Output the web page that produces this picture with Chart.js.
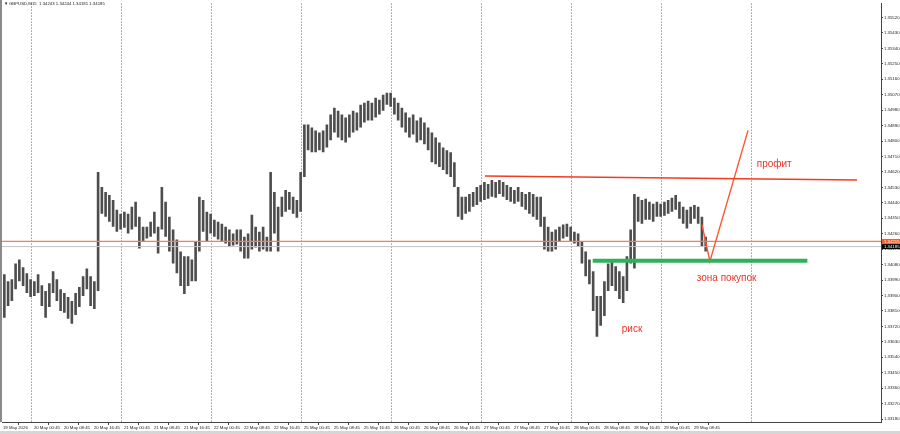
<!DOCTYPE html>
<html>
<head>
<meta charset="utf-8">
<script src="https://cdn.jsdelivr.net/npm/chart.js@4.4.1/dist/chart.umd.min.js"></script>
<style>
  html, body { margin: 0; padding: 0; background: #fff; }
  #wrap { width: 900px; height: 434px; position: relative; }
</style>
</head>
<body>
<div id="wrap"><canvas id="chart" width="900" height="434"></canvas></div>
<script>
// GBPUSD M15 - one entry per group of 4 bars (group high / group low)
const groupSize = 4;
const highs = [
  1.34024, 1.33983, 1.33995, 1.34087, 1.34110, 1.34064, 1.34030, 1.33995, 1.33983, 1.34024,
  1.33960, 1.33926, 1.33972, 1.34041, 1.33995, 1.33937, 1.33914, 1.33891, 1.33868, 1.33914,
  1.33949, 1.34012, 1.34058, 1.34012, 1.33983, 1.34619, 1.34532, 1.34503, 1.34486, 1.34457,
  1.34399, 1.34376, 1.34388, 1.34376, 1.34417, 1.34446, 1.34359, 1.34301, 1.34301, 1.34330,
  1.34388, 1.34301, 1.34532, 1.34446, 1.34359, 1.34284, 1.34226, 1.34157, 1.34128, 1.34128,
  1.34110, 1.34215, 1.34475, 1.34457, 1.34388, 1.34376, 1.34342, 1.34330, 1.34318, 1.34301,
  1.34284, 1.34261, 1.34284, 1.34284, 1.34243, 1.34261, 1.34370, 1.34301, 1.34272, 1.34301,
  1.34243, 1.34619, 1.34503, 1.34417, 1.34475, 1.34515, 1.34503, 1.34475, 1.34457, 1.34619,
  1.34896, 1.34896, 1.34879, 1.34862, 1.34850, 1.34862, 1.34896, 1.34954, 1.34994, 1.34977,
  1.34954, 1.34937, 1.34954, 1.34977, 1.34966, 1.35012, 1.35023, 1.35035, 1.35023, 1.35052,
  1.35041, 1.35070, 1.35081, 1.35081, 1.35052, 1.35023, 1.34994, 1.34966, 1.34937, 1.34954,
  1.34919, 1.34937, 1.34908, 1.34879, 1.34850, 1.34821, 1.34792, 1.34763, 1.34746, 1.34734,
  1.34677, 1.34532, 1.34475, 1.34475, 1.34492, 1.34503, 1.34532, 1.34544, 1.34561, 1.34550,
  1.34573, 1.34561, 1.34573, 1.34561, 1.34544, 1.34532, 1.34515, 1.34532, 1.34503, 1.34492,
  1.34503, 1.34492, 1.34475, 1.34475, 1.34359, 1.34301, 1.34272, 1.34284, 1.34301, 1.34313,
  1.34318, 1.34301, 1.34272, 1.34261, 1.34215, 1.34157, 1.34110, 1.34041, 1.33897, 1.33897,
  1.33983, 1.34087, 1.34099, 1.34070, 1.34041, 1.34012, 1.34128, 1.34284, 1.34492, 1.34475,
  1.34457, 1.34463, 1.34446, 1.34434, 1.34446, 1.34434, 1.34446, 1.34457, 1.34469, 1.34486,
  1.34446, 1.34417, 1.34399, 1.34417, 1.34428, 1.34417, 1.34359, 1.34243
];
const lows = [
  1.33770, 1.33839, 1.33868, 1.33937, 1.33983, 1.33955, 1.33914, 1.33891, 1.33897, 1.33914,
  1.33839, 1.33770, 1.33833, 1.33914, 1.33868, 1.33810, 1.33799, 1.33764, 1.33735, 1.33787,
  1.33833, 1.33897, 1.33937, 1.33839, 1.33822, 1.33926, 1.34376, 1.34359, 1.34330, 1.34301,
  1.34272, 1.34284, 1.34295, 1.34261, 1.34284, 1.34301, 1.34174, 1.34215, 1.34232, 1.34243,
  1.34261, 1.34145, 1.34284, 1.34243, 1.34157, 1.34087, 1.34030, 1.33955, 1.33908, 1.33955,
  1.33983, 1.33983, 1.34157, 1.34272, 1.34215, 1.34261, 1.34243, 1.34226, 1.34215, 1.34203,
  1.34186, 1.34192, 1.34197, 1.34157, 1.34116, 1.34116, 1.34168, 1.34180, 1.34157, 1.34168,
  1.34157, 1.34157, 1.34261, 1.34157, 1.34359, 1.34388, 1.34399, 1.34376, 1.34353, 1.34388,
  1.34590, 1.34746, 1.34734, 1.34734, 1.34746, 1.34734, 1.34763, 1.34804, 1.34850, 1.34821,
  1.34804, 1.34792, 1.34821, 1.34850, 1.34862, 1.34879, 1.34908, 1.34919, 1.34919, 1.34937,
  1.34954, 1.34977, 1.35012, 1.35000, 1.34954, 1.34919, 1.34879, 1.34850, 1.34821, 1.34838,
  1.34792, 1.34804, 1.34781, 1.34746, 1.34677, 1.34665, 1.34648, 1.34631, 1.34607, 1.34590,
  1.34532, 1.34359, 1.34342, 1.34376, 1.34388, 1.34417, 1.34428, 1.34446, 1.34457, 1.34463,
  1.34475, 1.34469, 1.34492, 1.34475, 1.34457, 1.34446, 1.34434, 1.34446, 1.34417, 1.34399,
  1.34376, 1.34359, 1.34342, 1.34301, 1.34168, 1.34157, 1.34157, 1.34168, 1.34215, 1.34232,
  1.34243, 1.34215, 1.34203, 1.34186, 1.34087, 1.34012, 1.33966, 1.33810, 1.33660, 1.33723,
  1.33781, 1.33926, 1.33955, 1.33926, 1.33879, 1.33856, 1.33926, 1.34087, 1.34058, 1.34330,
  1.34318, 1.34342, 1.34342, 1.34330, 1.34359, 1.34359, 1.34365, 1.34376, 1.34388, 1.34399,
  1.34347, 1.34318, 1.34290, 1.34318, 1.34347, 1.34318, 1.34186, 1.34157
];

// time axis (bar numbers from the first bar on screen)
const timeLabels = [
  '19 May 2026', '20 May 00:45', '20 May 08:45', '20 May 16:45', '21 May 00:45', '21 May 08:45',
  '21 May 16:45', '22 May 00:45', '22 May 08:45', '22 May 16:45', '25 May 00:45', '25 May 08:45',
  '25 May 16:45', '26 May 00:45', '26 May 08:45', '26 May 16:45', '27 May 00:45', '27 May 08:45',
  '27 May 16:45', '28 May 00:45', '28 May 08:45', '28 May 16:45', '29 May 00:45', '29 May 08:45'
];
const timeLabelBars = [
  0, 33, 65, 97, 129, 161, 193, 225, 257, 289, 321, 353,
  385, 417, 449, 481, 513, 545, 577, 609, 641, 673, 705, 737
];
const dayBars = [30, 126, 222, 318, 414, 510, 606, 702, 798];

// price axis
const priceTicks = [
  1.33180, 1.33270, 1.33360, 1.33450, 1.33540, 1.33630, 1.33720, 1.33810, 1.33900,
  1.33990, 1.34080, 1.34170, 1.34260, 1.34350, 1.34440, 1.34530, 1.34620, 1.34710,
  1.34800, 1.34890, 1.34980, 1.35070, 1.35160, 1.35250, 1.35340, 1.35430, 1.35520
];
const priceMin = 1.331629, priceMax = 1.356009;
const barMin = -1, barMax = 936.5;

const askPrice = 1.34215;
const bidPrice = 1.34185;
const titleText = 'GBPUSD,M15  1.34243 1.34244 1.34181 1.34185';

// hand-drawn analysis
const resistLine = [{ x: 514, y: 1.34596 }, { x: 911, y: 1.34573 }];
const buyZone = [{ x: 629, y: 1.34102 }, { x: 858, y: 1.34102 }];
const forecast = [{ x: 745.6, y: 1.34313 }, { x: 754, y: 1.34099 }, { x: 794.7, y: 1.34862 }];
const notes = [
  { text: 'профит', x: 804, y: 1.34665 },
  { text: 'зона покупок', x: 740, y: 1.34001 },
  { text: 'риск', x: 660, y: 1.33706 }
];

const tinyFont = { family: 'Liberation Sans', size: 4.3 };

const barData = highs.map((h, i) => ({ x: i * groupSize + 1.5, y: [lows[i], h] }));

const decor = {
  id: 'decor',
  beforeDraw(chart) {
    const ctx = chart.ctx;
    ctx.save();
    ctx.fillStyle = '#fff';
    ctx.fillRect(0, 0, chart.width, chart.height);
    ctx.restore();
  },
  beforeDatasetsDraw(chart) {
    const { ctx, chartArea, scales } = chart;
    ctx.save();
    ctx.strokeStyle = '#666';
    ctx.lineWidth = 1;
    ctx.setLineDash([1, 2]);
    dayBars.forEach(b => {
      const px = Math.round(scales.x.getPixelForValue(b)) + 0.5;
      ctx.beginPath();
      ctx.moveTo(px, chartArea.top);
      ctx.lineTo(px, chartArea.bottom);
      ctx.stroke();
    });
    ctx.restore();
  },
  afterDatasetsDraw(chart) {
    const { ctx, scales } = chart;
    ctx.save();
    ctx.font = '10px "Liberation Sans"';
    ctx.fillStyle = '#ea3325';
    ctx.textBaseline = 'middle';
    ctx.textAlign = 'left';
    notes.forEach(n => {
      ctx.fillText(n.text, scales.x.getPixelForValue(n.x), scales.y.getPixelForValue(n.y));
    });
    ctx.restore();
  },
  afterDraw(chart) {
    const { ctx, chartArea, scales } = chart;
    ctx.save();
    // left frame + bottom strip
    ctx.fillStyle = '#8a8a8a';
    ctx.fillRect(0, 0, 2, chartArea.bottom);
    ctx.fillStyle = '#d6d6d6';
    ctx.fillRect(0, chart.height - 3, chart.width, 3);
    // title
    ctx.font = '4.3px "Liberation Sans"';
    ctx.fillStyle = '#222';
    ctx.textBaseline = 'middle';
    ctx.fillText('\u25BC', 4, 3.5);
    ctx.fillText(titleText, 9, 3.5);
    // price tags on the right axis
    const tag = (price, bg) => {
      const py = scales.y.getPixelForValue(price);
      ctx.fillStyle = bg;
      ctx.fillRect(chartArea.right + 1, py - 2.5, chart.width - chartArea.right - 1, 5);
      ctx.fillStyle = '#fff';
      ctx.fillText(price.toFixed(5), chartArea.right + 3, py);
    };
    tag(askPrice, '#ff5a24');
    tag(bidPrice, '#000');
    ctx.restore();
  }
};

new Chart(document.getElementById('chart'), {
  type: 'bar',
  data: {
    datasets: [
      {
        type: 'line', data: [{ x: barMin, y: askPrice }, { x: barMax, y: askPrice }],
        borderColor: '#ff7a4d', borderWidth: 1.2, pointRadius: 0, order: 2
      },
      {
        type: 'line', data: [{ x: barMin, y: bidPrice }, { x: barMax, y: bidPrice }],
        borderColor: '#c4c4c4', borderWidth: 1, pointRadius: 0, order: 3
      },
      {
        type: 'bar', data: barData, backgroundColor: '#4d4d4d',
        barPercentage: 0.7, categoryPercentage: 1, order: 5
      },
      {
        type: 'line', data: resistLine, borderColor: '#f23c22', borderWidth: 1.5,
        pointRadius: 0, order: 1
      },
      {
        type: 'line', data: buyZone, borderColor: '#2fb15c', borderWidth: 4,
        pointRadius: 0, order: 1
      },
      {
        type: 'line', data: forecast, borderColor: '#ff5530', borderWidth: 1.4,
        pointRadius: 0, tension: 0, order: 1
      }
    ]
  },
  options: {
    responsive: false,
    animation: false,
    layout: { padding: { left: 2, top: 0, right: 0, bottom: 0 } },
    plugins: { legend: { display: false }, tooltip: { enabled: false } },
    scales: {
      x: {
        type: 'linear', min: barMin, max: barMax, offset: false,
        afterBuildTicks: s => { s.ticks = timeLabelBars.map(v => ({ value: v })); },
        afterFit: s => { s.height = 12; },
        ticks: {
          autoSkip: false, maxRotation: 0, align: 'start', padding: 0,
          font: tinyFont, color: '#222',
          callback: (v, i) => timeLabels[i]
        },
        grid: { drawOnChartArea: false, tickLength: 3, color: '#444' },
        border: { color: '#444' }
      },
      y: {
        position: 'right', min: priceMin, max: priceMax,
        afterBuildTicks: s => { s.ticks = priceTicks.map(v => ({ value: v })); },
        afterFit: s => { s.width = 19; },
        ticks: {
          padding: 1, font: tinyFont, color: '#222',
          callback: v => v.toFixed(5)
        },
        grid: { drawOnChartArea: false, tickLength: 2, color: '#444' },
        border: { color: '#444' }
      }
    }
  },
  plugins: [decor]
});
</script>
</body>
</html>
